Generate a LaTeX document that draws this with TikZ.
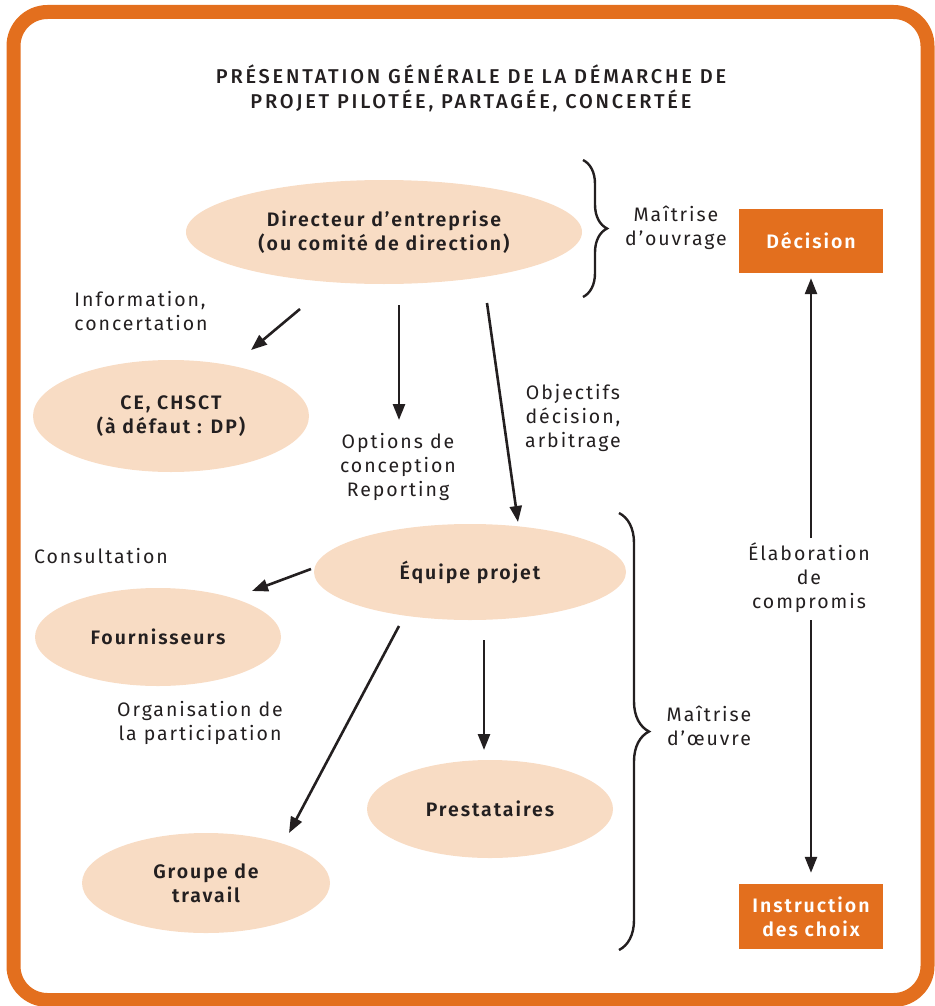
\documentclass[tikz,border=0pt]{standalone}
\usepackage{fontspec}
\setmainfont{Fira Sans}[LetterSpace=10, BoldFont={Fira Sans SemiBold}]
\newfontfamily\titlefont{Fira Sans Medium}[LetterSpace=14]
\usetikzlibrary{shapes.geometric,arrows.meta,decorations.pathreplacing}
\definecolor{orng}{HTML}{E36F1E}
\definecolor{peach}{HTML}{F8DCC4}
\definecolor{ink}{HTML}{231F20}
\begin{document}
\begin{tikzpicture}[x=1pt,y=-1pt,
  oval/.style={ellipse, fill=peach, inner sep=0pt, align=center, text=ink,
    font=\fontsize{19.5}{24}\selectfont\bfseries},
  obox/.style={rectangle, fill=orng, minimum width=144pt, minimum height=64pt,
    inner sep=0pt, align=center, text=white, font=\fontsize{19.5}{24}\selectfont\bfseries},
  lbl/.style={align=center, text=ink, inner sep=0pt, font=\fontsize{19.5}{24}\selectfont},
  arr/.style={-{Triangle[length=16pt,width=12pt]}, line width=2.6pt, draw=ink},
  brc/.style={decorate, line width=2.4pt, draw=ink}]
\useasboundingbox (0,0) rectangle (934,1006);
\draw[orng, line width=14pt, rounded corners=34pt] (13.5,12) rectangle (927.5,1000);

\node[lbl, font=\fontsize{20}{25}\selectfont\titlefont] (title) at (471,88)
  {PRÉSENTATION GÉNÉRALE DE LA DÉMARCHE DE\\PROJET PILOTÉE, PARTAGÉE, CONCERTÉE};

\node[oval, minimum width=396pt, minimum height=104pt] (dir) at (384,232) {Directeur d’entreprise\\(ou comité de direction)};
\node[oval, minimum width=276pt, minimum height=112pt] (ce) at (171,416) {CE, CHSCT\\(à défaut : DP)};
\node[oval, minimum width=312pt, minimum height=96pt] (eq) at (470,572) {Équipe projet};
\node[oval, minimum width=246pt, minimum height=98pt] (four) at (158,637) {Fournisseurs};
\node[oval, minimum width=246pt, minimum height=98pt] (prest) at (490,809) {Prestataires};
\node[oval, minimum width=248pt, minimum height=100pt] (grp) at (206,883) {Groupe de\\travail};

\node[obox] (dec) at (811,241) {Décision};
\node[obox, minimum height=65pt] (ins) at (811,916.5) {Instruction\\des choix};

\node[lbl] (mo) at (676,228) {Maîtrise\\d’ouvrage};
\node[lbl] (moe) at (709,726) {Maîtrise\\d’œuvre};
\node[lbl, align=left] (info) at (141,311) {Information,\\concertation};
\node[lbl] (opt) at (398,467) {Options de\\conception\\Reporting};
\node[lbl] (obj) at (573,418) {Objectifs\\décision,\\arbitrage};
\node[lbl] (cons) at (101,556) {Consultation};
\node[lbl] (org) at (200,723) {Organisation de\\la participation};
\node[lbl] (elab) at (809,578) {Élaboration\\de\\compromis};

\coordinate (elabtop) at (811,538);
\coordinate (elabbot) at (811,620);
\draw[arr, shorten >=5pt] (elabtop) -- (dec);
\draw[arr, shorten >=11pt] (elabbot) -- (ins);

\coordinate (a1s) at (300,309); \coordinate (a1e) at (251,350);
\coordinate (a2s) at (399,305); \coordinate (a2e) at (399,420);
\coordinate (a3s) at (487,303); \coordinate (a3e) at (518,522);
\coordinate (a4s) at (311,569); \coordinate (a4e) at (252,591);
\coordinate (a5s) at (399,626); \coordinate (a5e) at (289,833);
\coordinate (a6s) at (484,640); \coordinate (a6e) at (484,750);
\draw[arr] (a1s) -- (a1e);
\draw[arr] (a2s) -- (a2e);
\draw[arr] (a3s) -- (a3e);
\draw[arr] (a4s) -- (a4e);
\draw[arr] (a5s) -- (a5e);
\draw[arr] (a6s) -- (a6e);

\coordinate (b1t) at (583,160); \coordinate (b1b) at (583,297);
\coordinate (b2t) at (619,513); \coordinate (b2b) at (619,950);
\draw[brc, decoration={brace, amplitude=24pt}] (b1t) -- (b1b);
\draw[brc, decoration={brace, amplitude=30pt}] (b2t) -- (b2b);
\end{tikzpicture}
\end{document}
